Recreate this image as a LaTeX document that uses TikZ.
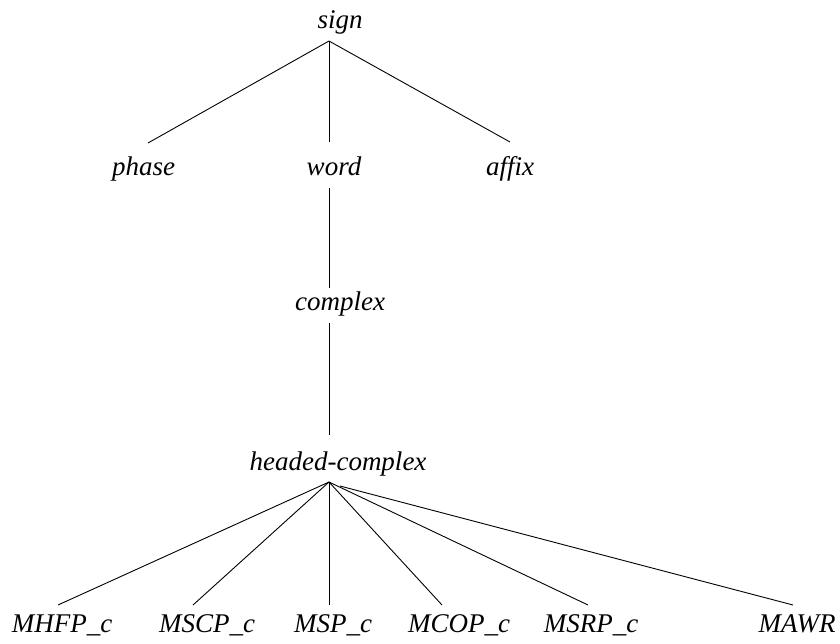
\documentclass[tikz,border=0pt]{standalone}
\usepackage{fontspec}
\setmainfont{Liberation Serif}
\begin{document}
\begin{tikzpicture}[x=1pt,y=-1pt,
  typ/.style={anchor=base,inner sep=0pt,font=\fontsize{27}{32}\selectfont\itshape},
  edge/.style={line width=0.9pt}]
\useasboundingbox (0,0) rectangle (840,643);
% type labels
\node[typ] (sign) at (340,28) {sign};
\node[typ] (phase) at (143.5,175) {phase};
\node[typ] (word) at (334,175) {word};
\node[typ] (affix) at (510,175) {affix};
\node[typ] (complex) at (340,310) {complex};
\node[typ] (hc) at (338,470) {headed-complex};
\node[typ] (mhfp) at (62,632) {MHFP\_c};
\node[typ] (mscp) at (207,632) {MSCP\_c};
\node[typ] (msp) at (333,632) {MSP\_c};
\node[typ] (mcop) at (459,632) {MCOP\_c};
\node[typ] (msrp) at (591,632) {MSRP\_c};
\node[typ] (mawr) at (797,632) {MAWR};
% attachment points of the branches
\coordinate (sign-b) at (329,41);
\coordinate (phase-t) at (148,143);
\coordinate (word-t) at (329,142);
\coordinate (word-b) at (329,188);
\coordinate (affix-t) at (510,142);
\coordinate (complex-t) at (329,288);
\coordinate (complex-b) at (329,323);
\coordinate (hc-t) at (329,435);
\coordinate (hc-b) at (329,482);
\coordinate (hc-b2) at (340,486);
\coordinate (mhfp-t) at (58,605);
\coordinate (mscp-t) at (193,605);
\coordinate (msp-t) at (329,605);
\coordinate (mcop-t) at (442,605);
\coordinate (msrp-t) at (588,605);
\coordinate (mawr-t) at (793,605);
% branches
\draw[edge] (sign-b) -- (phase-t);
\draw[edge] (sign-b) -- (word-t);
\draw[edge] (sign-b) -- (affix-t);
\draw[edge] (word-b) -- (complex-t);
\draw[edge] (complex-b) -- (hc-t);
\draw[edge] (hc-b) -- (mhfp-t);
\draw[edge] (hc-b) -- (mscp-t);
\draw[edge] (hc-b) -- (msp-t);
\draw[edge] (hc-b) -- (mcop-t);
\draw[edge] (hc-b) -- (msrp-t);
\draw[edge] (hc-b2) -- (mawr-t);
\end{tikzpicture}
\end{document}
